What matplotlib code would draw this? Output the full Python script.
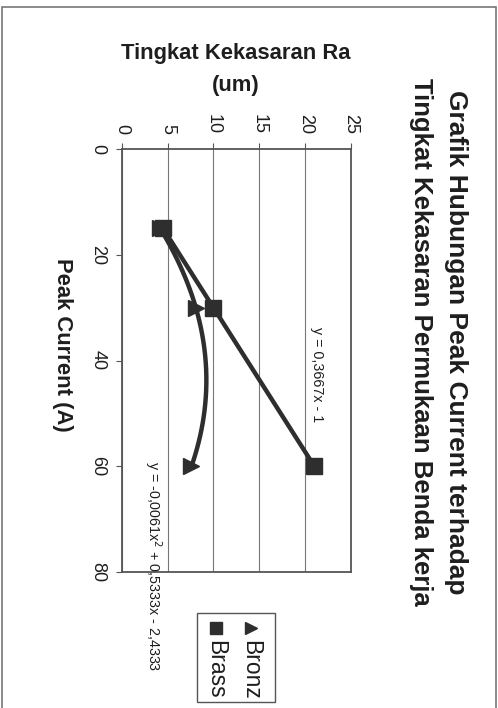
import numpy as np
import matplotlib.pyplot as plt
from matplotlib.patches import Rectangle
from matplotlib.lines import Line2D

plt.rcParams['font.family'] = ['Liberation Sans', 'DejaVu Sans']

# Peak current (A) vs surface roughness Ra (um)
peak_current = [15, 30, 60]
ra_brass = [4.5, 10, 21]
ra_bronz = [4.19, 8.08, 7.61]
current_ticks = [0, 20, 40, 60, 80]
ra_ticks = [0, 5, 10, 15, 20, 25]
series_names = ['Bronz', 'Brass']
eq_brass = 'y = 0,3667x - 1'
eq_bronz = 'y = -0,0061x$^2$ + 0,5333x - 2,4333'

W, H = 498, 708
ink = '#2e2e2e'
txt = '#1e1e1e'


def fx(x):
    return x / W


def fy(y):
    return 1 - y / H


fig = plt.figure(figsize=(W / 100, H / 100), dpi=100)

# outer chart border (bottom edge runs off the page)
fig.add_artist(Rectangle((fx(2), fy(714)), 494 / W, 707 / H, transform=fig.transFigure,
                         fill=False, ec='#777777', lw=1.2))

# the whole chart is laid out turned a quarter turn clockwise:
# Ra runs left->right along the top, peak current runs top->bottom
ax = fig.add_axes([fx(121.7), fy(572), (351 - 121.7) / W, (572 - 149) / H])

cc = np.linspace(15, 60, 120)
fit_brass = np.polyfit(peak_current, ra_brass, 1)
fit_bronz = np.polyfit(peak_current, ra_bronz, 2)
ax.plot(np.polyval(fit_bronz, cc), cc, color=ink, lw=3.2, solid_capstyle='round', zorder=3)
ax.plot(np.polyval(fit_brass, cc), cc, color=ink, lw=3.2, solid_capstyle='round', zorder=3)
ax.plot(ra_bronz, peak_current, ls='none', marker='>', ms=11, color=ink, zorder=4)
ax.plot(ra_brass, peak_current, ls='none', marker='s', ms=12, color=ink, zorder=5)

ax.set_xlim(0, 25)
ax.set_ylim(80, 0)
ax.xaxis.tick_top()
ax.set_xticks(ra_ticks)
ax.set_xticklabels(ra_ticks, rotation=-90, fontsize=13)
ax.set_yticks(current_ticks)
ax.set_yticklabels(current_ticks, rotation=-90, va='center', fontsize=13)
ax.tick_params(axis='both', direction='out', length=4, width=0.8, color='#555555',
               pad=7, labelcolor=txt)
ax.grid(axis='x', color='#777777', lw=0.8)
for side in ['top', 'right', 'bottom', 'left']:
    ax.spines[side].set_linestyle((0, (1, 1)))
    ax.spines[side].set_color('#555555')
    ax.spines[side].set_linewidth(1.3)

# trendline equations
ax.text(fx(317), fy(375), eq_brass, transform=fig.transFigure, rotation=-90,
        ha='center', va='center', fontsize=10.3, color=txt)
ax.text(fx(153), fy(566), eq_bronz, transform=fig.transFigure, rotation=-90,
        ha='center', va='center', fontsize=10.3, color=txt, clip_on=False)

# titles
fig.text(fx(456), fy(342), 'Grafik Hubungan Peak Current terhadap', rotation=-90,
         ha='center', va='center', fontsize=19, fontweight='bold', color=txt)
fig.text(fx(421), fy(342), 'Tingkat Kekasaran Permukaan Benda kerja', rotation=-90,
         ha='center', va='center', fontsize=18.5, fontweight='bold', color=txt)
fig.text(fx(236), fy(53), 'Tingkat Kekasaran Ra', ha='center', va='center',
         fontsize=15.8, fontweight='bold', color=txt)
fig.text(fx(236), fy(85), '(um)', ha='center', va='center',
         fontsize=15.8, fontweight='bold', color=txt)
fig.text(fx(62), fy(345), 'Peak Current (A)', rotation=-90, ha='center', va='center',
         fontsize=15.8, fontweight='bold', color=txt)

# legend box
fig.add_artist(Rectangle((fx(197), fy(702)), 78 / W, 89 / H, transform=fig.transFigure,
                         fill=False, ec='#555555', lw=1.0))
fig.add_artist(Line2D([fx(251)], [fy(628)], transform=fig.transFigure, ls='none',
                      marker='>', ms=9, color=ink))
fig.add_artist(Line2D([fx(216)], [fy(628)], transform=fig.transFigure, ls='none',
                      marker='s', ms=9, color=ink))
fig.text(fx(251), fy(640), series_names[0], rotation=-90, ha='center', va='top',
         fontsize=16.5, color=txt)
fig.text(fx(216), fy(640), series_names[1], rotation=-90, ha='center', va='top',
         fontsize=16.5, color=txt)

fig.savefig('out.png', dpi=100)
